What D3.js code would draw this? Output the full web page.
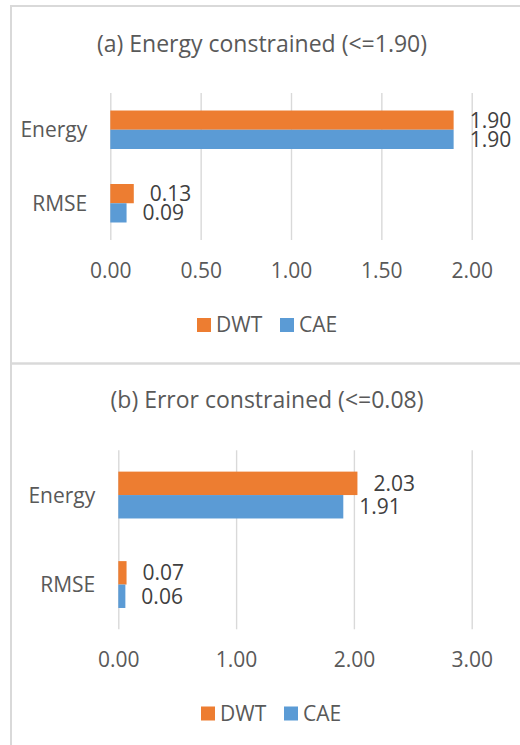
<!DOCTYPE html>
<html>
<head>
<meta charset="utf-8">
<script src="https://cdn.jsdelivr.net/npm/d3@7"></script>
<style>
  html, body { margin: 0; padding: 0; background: #fff; }
  svg { display: block; font-family: "Open Sans", "Noto Sans", sans-serif; }
</style>
</head>
<body>
<svg id="chart" width="520" height="745"></svg>
<script>
// ---- data ----
const categories = ["Energy", "RMSE"];
const seriesNames = ["DWT", "CAE"];
const seriesColors = ["#ED7D31", "#5B9BD5"];

const titleA = "(a) Energy constrained (<=1.90)";
const dwtA = [1.90, 0.13];
const caeA = [1.90, 0.09];
const ticksA = [0, 0.5, 1.0, 1.5, 2.0];

const titleB = "(b) Error constrained (<=0.08)";
const dwtB = [2.03, 0.07];
const caeB = [1.91, 0.06];
const ticksB = [0, 1, 2, 3];

const svg = d3.select("#chart");
const labelSize = "21px";

// panel borders
const borderColor = "#d9d9d9";
svg.append("rect").attr("x", 11).attr("y", 6).attr("width", 530).attr("height", 357.5)
  .attr("fill", "none").attr("stroke", borderColor).attr("stroke-width", 2);
svg.append("rect").attr("x", 11).attr("y", 363.5).attr("width", 530).attr("height", 400)
  .attr("fill", "none").attr("stroke", borderColor).attr("stroke-width", 2);

function drawPanel(cfg) {
  const g = svg.append("g");
  const values = [cfg.dwt, cfg.cae];
  const x = d3.scaleLinear().domain([cfg.ticks[0], cfg.ticks[cfg.ticks.length - 1]]).range([cfg.x0, cfg.x1]);
  const y = d3.scaleBand().domain(categories).range([cfg.y0, cfg.y1]).padding(0);
  const ys = d3.scaleBand().domain(seriesNames).range([0, y.bandwidth()]).paddingInner(0).paddingOuter(0.91);

  // title
  g.append("text").attr("x", cfg.titleX).attr("y", cfg.titleY)
    .attr("text-anchor", "middle").attr("fill", "#595959")
    .style("font-size", "23px").text(cfg.title);

  // x axis with gridlines
  const xAxis = d3.axisBottom(x).tickValues(cfg.ticks)
    .tickSize(-(cfg.y1 - cfg.y0)).tickPadding(23).tickFormat(d3.format(".2f"));
  const ax = g.append("g").attr("transform", `translate(0,${cfg.y1})`).call(xAxis);
  ax.select(".domain").remove();
  ax.selectAll(".tick line").attr("stroke", "#d9d9d9").attr("stroke-width", 1.4);
  ax.selectAll(".tick text").attr("fill", "#595959").style("font-size", labelSize)
    .style("font-family", "'Open Sans', sans-serif");

  // y axis (category labels)
  const yAxis = d3.axisLeft(y).tickSize(0).tickPadding(23);
  const ay = g.append("g").attr("transform", `translate(${cfg.x0},0)`).call(yAxis);
  ay.select(".domain").remove();
  ay.selectAll(".tick text").attr("fill", "#595959").style("font-size", labelSize)
    .style("font-family", "'Open Sans', sans-serif").attr("dy", "0.36em");

  // bars
  seriesNames.forEach((s, si) => {
    const sg = g.append("g");
    sg.selectAll("rect").data(categories).join("rect")
      .attr("x", x(0))
      .attr("y", c => y(c) + ys(s))
      .attr("width", (c, i) => x(values[si][i]) - x(0))
      .attr("height", ys.bandwidth())
      .attr("fill", seriesColors[si]);
    sg.selectAll("text").data(categories).join("text")
      .attr("x", (c, i) => x(values[si][i]) + 16)
      .attr("y", c => y(c) + ys(s) + ys.bandwidth() / 2)
      .attr("dy", "0.36em")
      .attr("fill", "#404040")
      .style("font-size", labelSize)
      .text((c, i) => d3.format(".2f")(values[si][i]));
  });

  // legend
  seriesNames.forEach((s, si) => {
    const lx = cfg.legendX[si];
    g.append("rect").attr("x", lx).attr("y", cfg.legendY - 14)
      .attr("width", 14).attr("height", 14).attr("fill", seriesColors[si]);
    g.append("text").attr("x", lx + 19).attr("y", cfg.legendY)
      .attr("fill", "#595959").style("font-size", labelSize).text(s);
  });
}

drawPanel({
  title: titleA, titleX: 262, titleY: 52,
  dwt: dwtA, cae: caeA, ticks: ticksA,
  x0: 110.3, x1: 471.7, y0: 93, y1: 240,
  legendX: [197, 280], legendY: 332
});

drawPanel({
  title: titleB, titleX: 267, titleY: 408,
  dwt: dwtB, cae: caeB, ticks: ticksB,
  x0: 118.3, x1: 471.7, y0: 450.3, y1: 629.3,
  legendX: [201, 284], legendY: 720.5
});
</script>
</body>
</html>
